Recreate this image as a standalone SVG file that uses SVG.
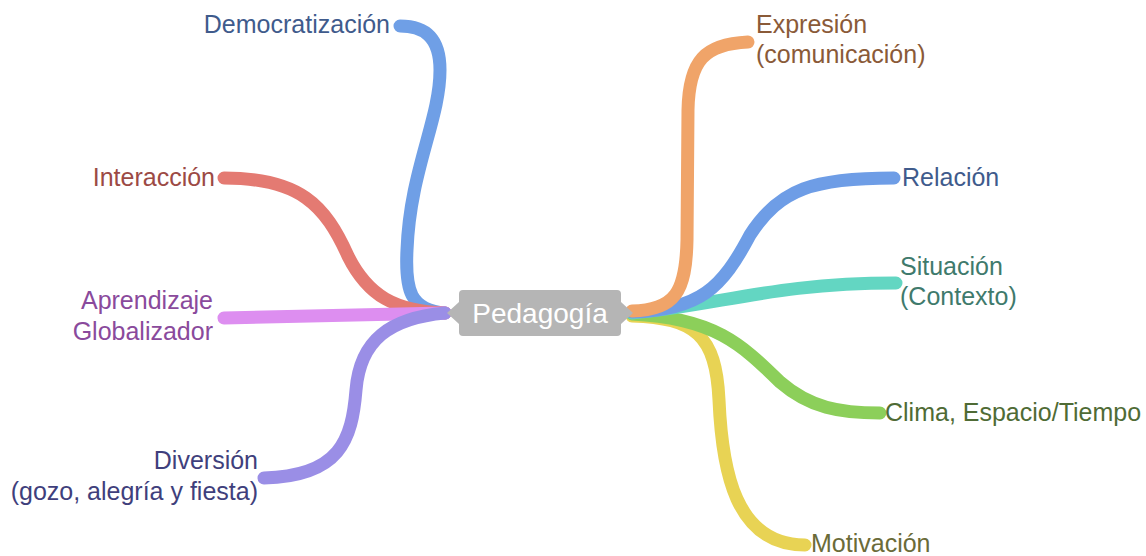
<svg xmlns="http://www.w3.org/2000/svg" width="1146" height="556" viewBox="0 0 1146 556">
<style>
.b{fill:none;stroke-width:13;stroke-linecap:round;stroke-linejoin:round}
.t{font-family:"Liberation Sans",Arial,sans-serif;font-size:25px}
.e{text-anchor:end}
</style>
<rect width="1146" height="556" fill="#ffffff"/>
<g id="connectors">
<path class="b" stroke="#6f9fe6" d="M445,313 C410,310 405,290 407,250 C410,170 440,120 440,70 C440,35 422,26 400,26"/>
<path class="b" stroke="#e47a72" d="M445,313 C395,311 368,296 348,256 C325,205 300,178 224,178"/>
<path class="b" stroke="#dd8ef0" d="M445,313 L224,318"/>
<path class="b" stroke="#9a8ee6" d="M445,313 C390,318 360,340 356,390 C352,440 340,476 264,478"/>
<path class="b" stroke="#e8d354" d="M632,316 C695,318 716,335 719,400 C722,470 735,545 805,545"/>
<path class="b" stroke="#8ccf5a" d="M632,314 C715,318 742,345 780,382 C810,408 840,413 880,413"/>
<path class="b" stroke="#63d6c2" d="M632,313 C720,305 775,283 896,283"/>
<path class="b" stroke="#6e9de6" d="M632,312 C700,310 722,288 750,235 C780,188 815,178 894,178"/>
<path class="b" stroke="#f0a469" d="M632,311 C675,310 686,292 687,240 L688,110 C689,60 705,44 748,42"/>
</g>
<g id="center">
<polygon points="447,313 459,302 459,324" fill="#b5b5b5"/>
<polygon points="633,313 621,302 621,324" fill="#b5b5b5"/>
<rect x="459" y="290" width="162" height="46" rx="4" fill="#b5b5b5"/>
<text x="540" y="323" text-anchor="middle" fill="#ffffff" font-family="Liberation Sans, Arial, sans-serif" font-size="28">Pedagogía</text>
</g>
<g id="n-democratizacion"><text class="t e" x="390" y="33" fill="#3f5b8c">Democratización</text></g>
<g id="n-interaccion"><text class="t e" x="215" y="186" fill="#9c4a45">Interacción</text></g>
<g id="n-aprendizaje"><text class="t e" fill="#8a4a9c"><tspan x="213" y="309">Aprendizaje</tspan><tspan x="213" y="340">Globalizador</tspan></text></g>
<g id="n-diversion"><text class="t e" fill="#3f3f7c"><tspan x="258" y="469">Diversión</tspan><tspan x="258" y="500">(gozo, alegría y fiesta)</tspan></text></g>
<g id="n-expresion"><text class="t" fill="#8a5a38"><tspan x="756" y="33">Expresión</tspan><tspan x="756" y="63">(comunicación)</tspan></text></g>
<g id="n-relacion"><text class="t" x="902" y="186" fill="#3f5b8c">Relación</text></g>
<g id="n-situacion"><text class="t" fill="#3f7a6c"><tspan x="900" y="275">Situación</tspan><tspan x="900" y="305">(Contexto)</tspan></text></g>
<g id="n-clima"><text class="t" x="885" y="421" fill="#4f6b35">Clima, Espacio/Tiempo</text></g>
<g id="n-motivacion"><text class="t" x="811" y="552" fill="#6b6b38">Motivación</text></g>
</svg>
